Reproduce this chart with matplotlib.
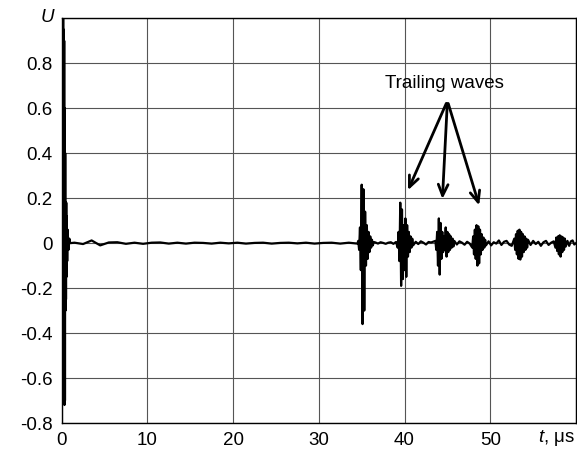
import numpy as np
import matplotlib
matplotlib.use('Agg')
import matplotlib.pyplot as plt

plt.rcParams['font.family'] = ['Liberation Sans', 'DejaVu Sans']
plt.rcParams['mathtext.fontset'] = 'custom'
plt.rcParams['mathtext.it'] = 'Liberation Sans:italic'
plt.rcParams['mathtext.rm'] = 'Liberation Sans'

# initial pulse (t in us, U)
pulse_t = [0.0, 0.03, 0.06, 0.09, 0.12, 0.15, 0.18, 0.21, 0.24, 0.27, 0.3, 0.33, 0.36, 0.39,
           0.42, 0.45, 0.48, 0.51, 0.54, 0.57, 0.6, 0.65, 0.7, 0.8, 0.9, 1.0]
pulse_u = [0.0, -0.5, 1.05, -0.48, 1.05, -0.45, 1.05, -0.4, 0.95, -0.35, 0.9, -0.72, 0.6, -0.7,
           0.4, -0.3, 0.18, -0.25, 0.18, -0.15, 0.12, -0.08, 0.06, -0.03, 0.02, 0.0]

# (start time, step, values)
quiet1 = [0.002, -0.004, 0.012, -0.01, 0.003, 0.004, -0.003, 0.002, -0.003, 0.002, 0.003, -0.002,
          0.002, -0.002, 0.002, 0.001, -0.002, 0.002, -0.001, 0.002, -0.002, 0.001, 0.002, -0.002,
          0.001, 0.002, -0.001, 0.002, -0.002, 0.001, 0.002, -0.002, 0.002, -0.002]
burst1 = [0.01, -0.03, 0.07, -0.12, 0.26, -0.36, 0.24, -0.3, 0.14, -0.1, 0.08, -0.07, 0.05, -0.04,
          0.03, -0.02, 0.015, -0.01, 0.005]
gap1 = [0.003, -0.002, 0.004, 0.001, -0.003, 0.002, 0.004, -0.003, 0.005]
burst2 = [-0.02, 0.05, -0.08, 0.18, -0.19, 0.15, -0.16, 0.08, -0.12, 0.11, -0.15, 0.08, -0.06, 0.05,
          -0.04, 0.03, -0.02, 0.02, -0.01]
gap2 = [0.006, -0.004, 0.008, 0.002, -0.006, 0.005, 0.003]
burst3 = [0.01, -0.03, 0.05, -0.1, 0.11, -0.14, 0.09, -0.07, 0.05, -0.04, 0.03, -0.03, 0.07, -0.06,
          0.05, -0.04, 0.04, -0.03, 0.03, -0.02, 0.02, -0.015, 0.01]
gap3 = [-0.006, 0.008, 0.002, -0.007, 0.006, -0.002]
burst4 = [-0.02, 0.03, -0.05, 0.06, -0.07, 0.08, -0.1, 0.075, -0.09, 0.06, -0.05, 0.04, -0.03, 0.025,
          -0.02, 0.015, -0.01]
gap4 = [0.008, -0.01, 0.004, -0.002, 0.012, -0.008, 0.006, 0.01, -0.006, -0.012]
burst5 = [0.02, -0.03, 0.04, -0.05, 0.055, -0.07, 0.06, -0.073, 0.05, -0.06, 0.04, -0.04, 0.03, -0.03,
          0.02, -0.02, 0.015]
gap5 = [-0.008, 0.01, -0.004, 0.006, -0.012, 0.004, 0.01, -0.008, 0.002, 0.008]
burst6 = [-0.02, 0.025, -0.035, 0.03, -0.05, 0.035, -0.06, 0.03, -0.04, 0.025, -0.03, 0.02, -0.015]
tail = [0.01, -0.012, 0.008, 0.012, -0.006, 0.0]

segments = [(1.5, 1.0, quiet1), (34.6, 0.1, burst1), (36.6, 0.3, gap1), (39.2, 0.1, burst2),
            (41.3, 0.3, gap2), (43.6, 0.1, burst3), (46.1, 0.3, gap3), (47.9, 0.1, burst4),
            (49.8, 0.3, gap4), (52.8, 0.1, burst5), (54.7, 0.3, gap5), (57.6, 0.1, burst6),
            (59.0, 0.2, tail)]

t = list(pulse_t)
u = list(pulse_u)
for t0, dt, vals in segments:
    t += list(t0 + dt * np.arange(len(vals)))
    u += vals

fig = plt.figure(figsize=(5.77, 4.5), dpi=100)
ax = fig.add_axes([0.1068, 0.06, 0.8915, 0.8993])

ax.plot(t, u, color='black', lw=1.6, zorder=3)

ax.set_xlim(0, 60)
ax.set_ylim(-0.8, 1.0)
ax.set_xticks([0, 10, 20, 30, 40, 50, 60])
ax.set_xticklabels(['0', '10', '20', '30', '40', '50', ''])
ax.set_yticks([-0.8, -0.6, -0.4, -0.2, 0, 0.2, 0.4, 0.6, 0.8, 1.0])
ax.set_yticklabels(['-0.8', '-0.6', '-0.4', '-0.2', '0', '0.2', '0.4', '0.6', '0.8', ''])
ax.tick_params(length=0, labelsize=13.5, pad=6.5)
ax.grid(True, color='#555555', lw=0.8)
for s in ax.spines.values():
    s.set_linewidth(1.0)

fig.text(47.5 / 577, 1 - 17.5 / 450, 'U', fontsize=13.5, style='italic', ha='center', va='center')
fig.text(575 / 577, 1 - 438 / 450, r'$t$, μs', fontsize=13.5, ha='right', va='center')

ax.text(44.7, 0.712, 'Trailing waves', fontsize=13.5, ha='center', va='center')
for xt, yt in [(40.27, 0.224), (44.4, 0.184), (48.8, 0.156)]:
    ax.annotate('', xy=(xt, yt), xytext=(45.0, 0.633),
                arrowprops=dict(arrowstyle='->,head_length=0.8,head_width=0.35', lw=2.0, color='black'))

fig.savefig('out.png', dpi=100)
